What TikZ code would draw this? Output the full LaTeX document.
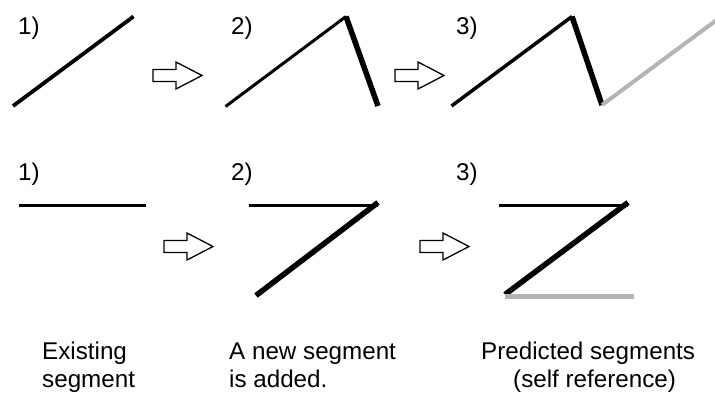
\documentclass[tikz,border=0pt]{standalone}
\usepackage{fontspec}
\setmainfont{Liberation Sans}
\definecolor{predgray}{RGB}{180,180,180}
\begin{document}
\begin{tikzpicture}[x=1pt,y=-1pt,
  lbl/.style={anchor=base west,inner sep=0pt,font=\fontsize{24.2}{28}\selectfont},
  thinseg/.style={line width=3pt,black},
  medseg/.style={line width=3.8pt,black},
  thickseg/.style={line width=5.5pt,black},
  predseg/.style={line width=4pt,predgray},
  blockarrow/.pic={\draw[line width=1.3pt,line join=miter,fill=white]
     (0,-6) -- (23,-6) -- (23,-13.5) -- (49,0) -- (23,13.5) -- (23,6) -- (0,6) -- cycle;}]
\useasboundingbox (0,0) rectangle (715,399);
% ---- top row ----
\node[lbl] (t1) at (18,34) {1)};
\node[lbl] (t2) at (231,34) {2)};
\node[lbl] (t3) at (456,34) {3)};
\coordinate (a1) at (13,106);  \coordinate (b1) at (133.5,16.5);
\draw[medseg] (a1) -- (b1);
\pic at (153,75.5) {blockarrow};
\coordinate (a2) at (225.5,106.5); \coordinate (b2) at (346,16.5); \coordinate (c2) at (378,106);
\draw[thinseg] (a2) -- (b2);
\draw[thickseg] (b2) -- (c2);
\pic at (395,75.5) {blockarrow};
\coordinate (a3) at (451.5,106); \coordinate (b3) at (572,16.5); \coordinate (c3) at (602,105); \coordinate (d3) at (716,20.5);
\draw[line width=3.5pt] (a3) -- (b3);
\draw[thickseg] (b3) -- (c3);
\draw[predseg] (c3) -- (d3);
% ---- bottom row ----
\node[lbl] (u1) at (18,180) {1)};
\node[lbl] (u2) at (231,180) {2)};
\node[lbl] (u3) at (456,180) {3)};
\coordinate (e1) at (19,205); \coordinate (f1) at (146,205);
\draw[thinseg] (e1) -- (f1);
\pic at (164,246.5) {blockarrow};
\coordinate (e2) at (249,205); \coordinate (f2) at (378,205); \coordinate (g2) at (256,295.5);
\draw[thinseg] (e2) -- (f2);
\draw[thickseg] ([yshift=2.5pt]f2) -- (g2);
\pic at (420,246.5) {blockarrow};
\coordinate (e3) at (499,205); \coordinate (f3) at (628,205); \coordinate (g3) at (505,294.5); \coordinate (h3) at (634,296.3);
\draw[thinseg] (e3) -- (f3);
\draw[thickseg] ([yshift=2.5pt]f3) -- (g3);
\draw[line width=4.7pt,predgray] (505,296.3) -- (h3);
% ---- captions ----
\node[lbl] (c1a) at (42,359) {Existing};
\node[lbl] (c1b) at (42,387) {segment};
\node[lbl] (c2a) at (229,359) {A new segment};
\node[lbl] (c2b) at (229,387) {is added.};
\node[lbl] (c3a) at (481,359) {Predicted segments};
\node[lbl] (c3b) at (513,387) {(self reference)};
\end{tikzpicture}
\end{document}
